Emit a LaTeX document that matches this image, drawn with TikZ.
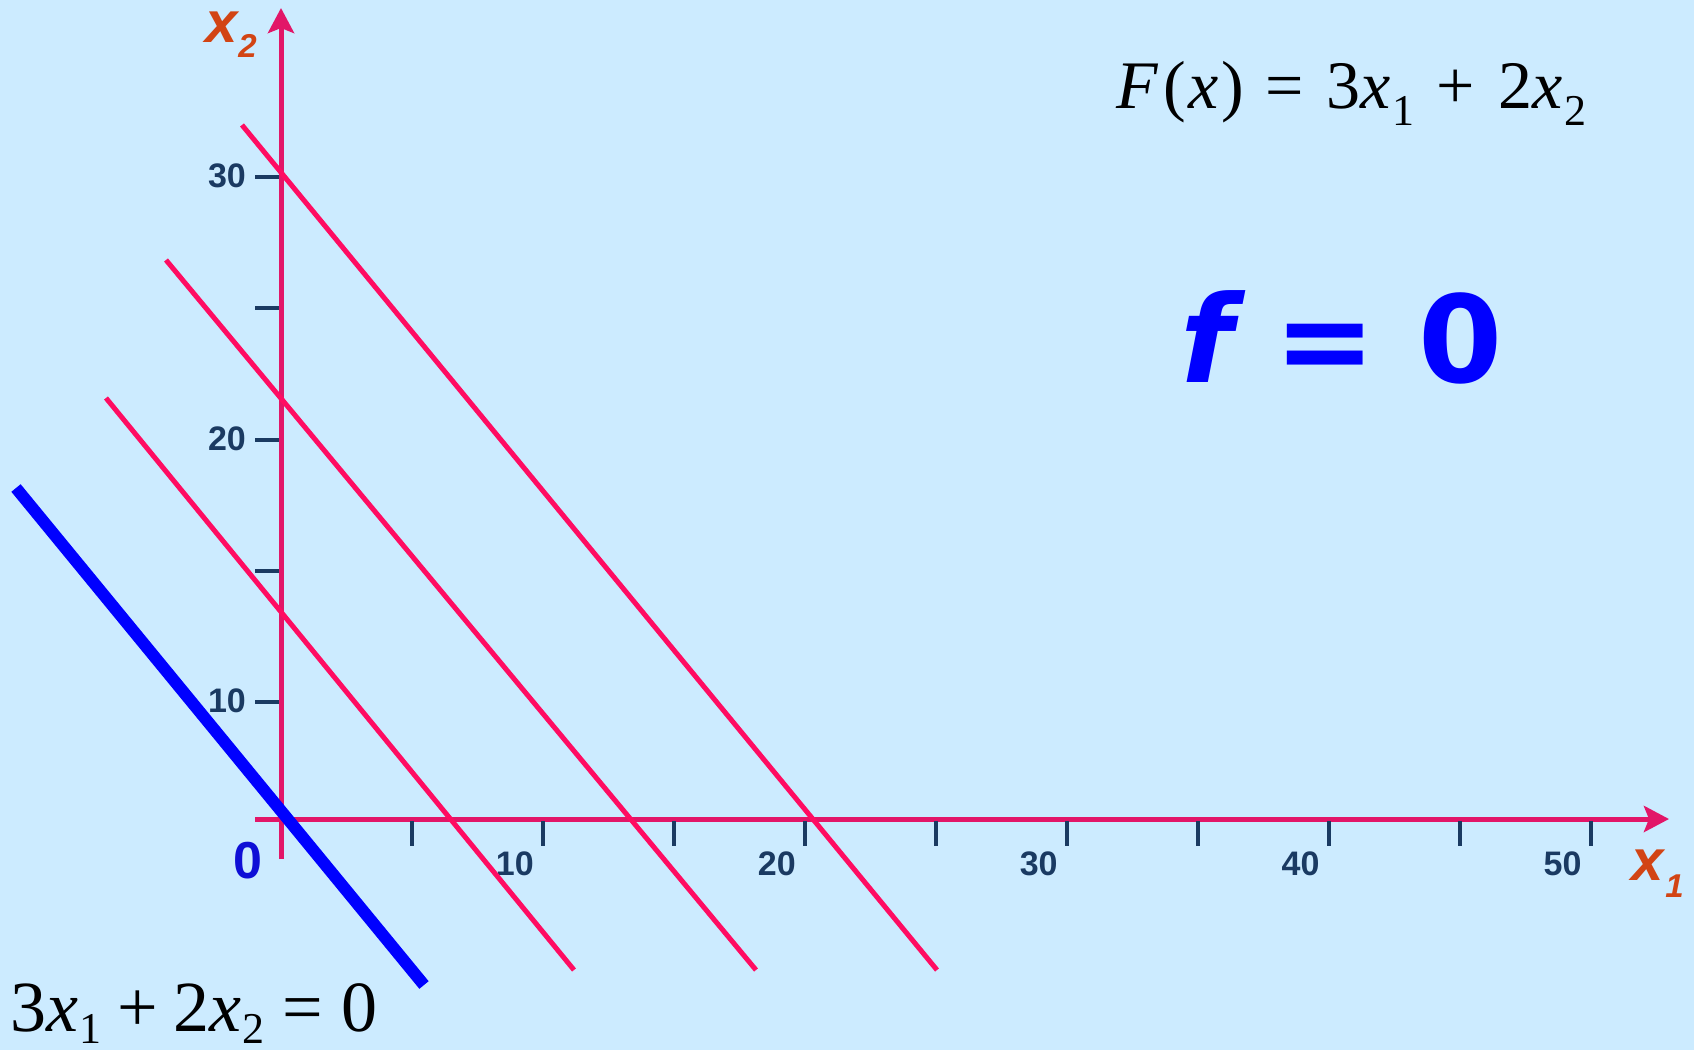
\documentclass[tikz,border=0pt]{standalone}
\usepackage{fontspec}
\setmainfont{Liberation Serif}
\newfontfamily\lsans{Liberation Sans}
\newfontfamily\djv{DejaVu Sans}
\usetikzlibrary{arrows.meta}
\definecolor{bg}{RGB}{204,235,255}
\definecolor{axispink}{RGB}{226,22,104}
\definecolor{linered}{RGB}{255,12,98}
\definecolor{navy}{RGB}{26,58,98}
\definecolor{lblorange}{RGB}{210,68,20}
\definecolor{pureblue}{RGB}{0,0,255}
\definecolor{zeroblue}{RGB}{14,14,214}
\newcommand{\px}[1]{\fontsize{#1}{#1}\selectfont}
\newcommand{\lowsub}[3]{\raisebox{-#1pt}{\px{#2}#3}}
\tikzset{
  axisline/.style={draw=axispink, line width=5pt, -{Stealth[length=25pt,width=26pt,inset=5pt]}},
  levelline/.style={draw=linered, line width=5pt},
  zeroline/.style={draw=pureblue, line width=12pt},
  tickmark/.style={draw=navy, line width=4pt},
  ticklbl/.style={text=navy, font=\lsans\bfseries\px{34}, inner sep=0pt, anchor=center},
  axlbl/.style={text=lblorange, font=\lsans\bfseries\itshape\px{58}, inner sep=0pt, anchor=base west, text height=31pt, text depth=17pt},
  formula/.style={text=black, inner sep=0pt, anchor=base west}
}
\begin{document}
\begin{tikzpicture}[x=1pt,y=-1pt]
\fill[bg] (0,0) rectangle (1694,1050);
\useasboundingbox (0,0) rectangle (1694,1050);
% axes
\coordinate (O) at (281,819);
\coordinate (xstart) at (255,819);
\coordinate (xend) at (1669,819);
\coordinate (ystart) at (281,859);
\coordinate (yend) at (281,8);
\draw[axisline] (xstart) -- (xend);
\draw[axisline] (ystart) -- (yend);
% x ticks
\foreach \v/\lab in {5/,10/10,15/,20/20,25/,30/30,35/,40/40,45/,50/50}{
  \coordinate (xt\v a) at ({281+26.19*\v},821);
  \coordinate (xt\v b) at ({281+26.19*\v},846);
  \draw[tickmark] (xt\v a) -- (xt\v b);
  \node[ticklbl] (xl\v) at ({281+26.19*\v-28},864) {\lab};
}
% y ticks
\foreach \v/\lab in {10/10,15/,20/20,25/,30/30}{
  \coordinate (yt\v a) at (255,{177+(30-\v)*131.25/5});
  \coordinate (yt\v b) at (279,{177+(30-\v)*131.25/5});
  \draw[tickmark] (yt\v a) -- (yt\v b);
  \node[ticklbl] (yl\v) at (227,{176+(30-\v)*131.25/5}) {\lab};
}
% level lines
\coordinate (l1a) at (106,398);
\coordinate (l1b) at (574,970);
\coordinate (l2a) at (166,260);
\coordinate (l2b) at (756,970);
\coordinate (l3a) at (242,125);
\coordinate (l3b) at (937,970);
\draw[levelline] (l1a) -- (l1b);
\draw[levelline] (l2a) -- (l2b);
\draw[levelline] (l3a) -- (l3b);
% zero line
\coordinate (z1) at (16,488);
\coordinate (z2) at (424,985);
\draw[zeroline] (z1) -- (z2);
% labels
\node[text=zeroblue, font=\lsans\bfseries\px{52}, inner sep=0pt] (origin) at (248,861) {0};
\node[axlbl] (xtwo) at (205,42) {x\kern1pt\lowsub{15}{33}{2}};
\node[axlbl] (xone) at (1631,880) {x\kern2pt\lowsub{17}{33}{1}};
\node[formula, font=\px{68}] (Fx) at (1116,108)
  {\textit{F}\kern5pt(\kern3pt\textit{x}\kern2pt)\kern22pt=\kern22pt3\textit{x}\kern2pt\lowsub{17}{44}{1}\kern22pt+\kern24pt2\textit{x}\kern2pt\lowsub{17}{44}{2}};
\node[text=pureblue, font=\djv\bfseries\px{121}, inner sep=0pt, anchor=base west] (feq) at (1180,382)
  {\itshape f\upshape{} = 0};
\node[formula, font=\px{72}] (zeroeq) at (10,1031)
  {3\textit{x}\kern1pt\lowsub{12}{44}{1}\kern16pt+\kern16pt2\textit{x}\kern1pt\lowsub{12}{44}{2}\kern18pt=\kern18pt0};
\end{tikzpicture}
\end{document}
